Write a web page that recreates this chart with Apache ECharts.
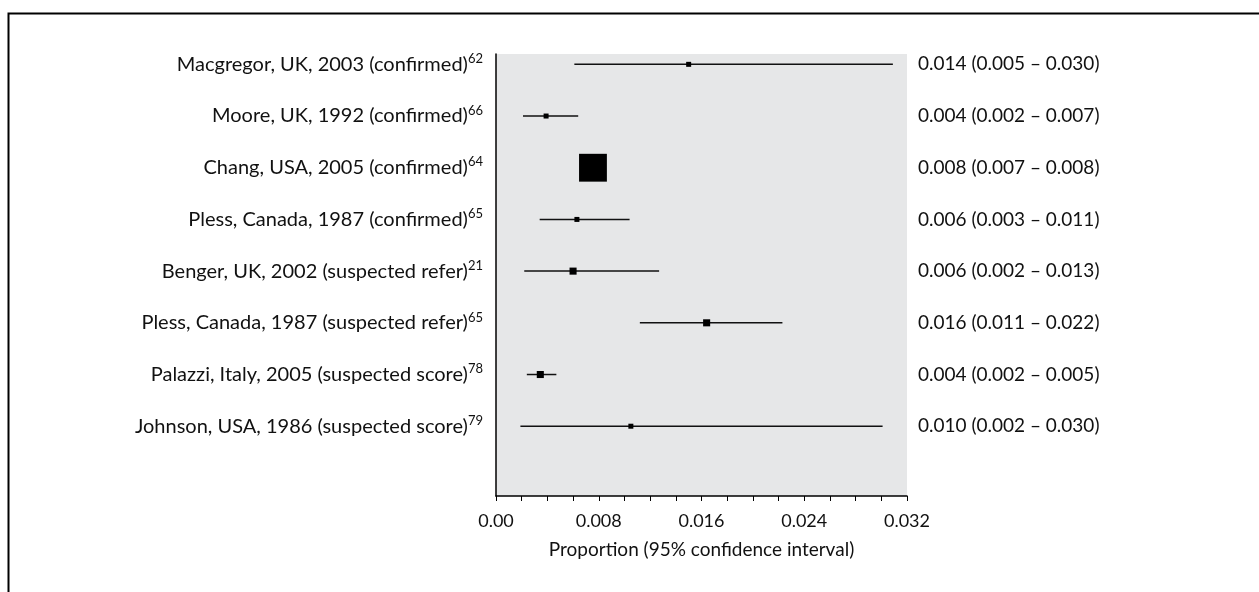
<!DOCTYPE html>
<html>
<head>
<meta charset="utf-8">
<title>Forest plot</title>
<script src="https://cdn.jsdelivr.net/npm/echarts@6/dist/echarts.min.js"></script>
<style>
  html, body { margin: 0; padding: 0; background: #fff; }
  #chart { width: 1259px; height: 592px; }
</style>
</head>
<body>
<div id="chart"></div>
<script>
// study labels and reference numbers (superscripts)
var studies = [
  'Macgregor, UK, 2003 (confirmed)',
  'Moore, UK, 1992 (confirmed)',
  'Chang, USA, 2005 (confirmed)',
  'Pless, Canada, 1987 (confirmed)',
  'Benger, UK, 2002 (suspected refer)',
  'Pless, Canada, 1987 (suspected refer)',
  'Palazzi, Italy, 2005 (suspected score)',
  'Johnson, USA, 1986 (suspected score)'
];
var refs = ['62', '66', '64', '65', '21', '65', '78', '79'];

// plotted values
var estimates = [0.0150, 0.0039, 0.00755, 0.0063, 0.0060, 0.0164, 0.00345, 0.0105];
var lower     = [0.0061, 0.0021, 0.0070, 0.0034, 0.0022, 0.0112, 0.0024, 0.0019];
var upper     = [0.0309, 0.0064, 0.0081, 0.0104, 0.0127, 0.0223, 0.0047, 0.0301];
// relative study weights (box area)
var weights   = [1, 1, 31, 1, 2, 2, 2, 1];

// reported values in right hand column
var repEst = [0.014, 0.004, 0.008, 0.006, 0.006, 0.016, 0.004, 0.010];
var repLo  = [0.005, 0.002, 0.007, 0.003, 0.002, 0.011, 0.002, 0.002];
var repHi  = [0.030, 0.007, 0.008, 0.011, 0.013, 0.022, 0.005, 0.030];

var FONT = 'Lato, "Open Sans", sans-serif';

var seriesData = [];
for (var i = 0; i < studies.length; i++) {
  seriesData.push([i + 1, estimates[i], lower[i], upper[i], weights[i], i]);
}

function ciLabel(i) {
  return repEst[i].toFixed(3) + ' (' + repLo[i].toFixed(3) + ' \u2013 ' + repHi[i].toFixed(3) + ')';
}

function renderItem(params, api) {
  var i = api.value(5);
  var y = api.value(0);
  var pEst = api.coord([api.value(1), y]);
  var pLo = api.coord([api.value(2), y]);
  var pHi = api.coord([api.value(3), y]);
  var left = api.coord([0, y]);
  var right = api.coord([0.032, y]);
  var s = 5 * Math.sqrt(api.value(4));
  return {
    type: 'group',
    children: [
      { type: 'line', shape: { x1: pLo[0], y1: pLo[1], x2: pHi[0], y2: pHi[1] },
        style: { stroke: '#111', lineWidth: 1.5 } },
      { type: 'rect', shape: { x: pEst[0] - s / 2, y: pEst[1] - s / 2, width: s, height: s },
        style: { fill: '#000' } },
      { type: 'text', x: left[0] - 13, y: left[1],
        style: {
          text: '{a|' + studies[i] + '}{s|' + refs[i] + '}',
          align: 'right', verticalAlign: 'middle',
          rich: {
            a: { fontFamily: FONT, fontSize: 20, fill: '#111', lineHeight: 24 },
            s: { fontFamily: FONT, fontSize: 13, fill: '#111', verticalAlign: 'top', lineHeight: 14 }
          }
        } },
      { type: 'text', x: right[0] + 11, y: right[1],
        style: { text: ciLabel(i), align: 'left', verticalAlign: 'middle',
          fontFamily: FONT, fontSize: 19, fill: '#111' } }
    ]
  };
}

var myChart = echarts.init(document.getElementById('chart'));
var option = {
  animation: false,
  backgroundColor: '#fff',
  graphic: [{
    type: 'rect', left: 6, top: 11,
    shape: { width: 1400, height: 800 },
    style: { fill: 'none', stroke: '#000', lineWidth: 2 }
  }],
  grid: {
    left: 496, right: 352, top: 54, bottom: 96,
    show: true, backgroundColor: '#e6e7e8', borderWidth: 0
  },
  xAxis: {
    type: 'value', min: 0, max: 0.032, interval: 0.002,
    name: 'Proportion (95% confidence interval)',
    nameLocation: 'middle', nameGap: 44,
    nameTextStyle: { fontFamily: FONT, fontSize: 19, color: '#111' },
    axisLine: { onZero: false, lineStyle: { color: '#000', width: 1.5 } },
    axisTick: { length: 5, lineStyle: { color: '#000', width: 1 } },
    axisLabel: {
      margin: 16, fontFamily: FONT, fontSize: 18, color: '#111',
      hideOverlap: false,
      formatter: function (v) {
        var k = Math.round(v / 0.002);
        if (k % 4 !== 0) return '';
        return k === 0 ? '0.00' : v.toFixed(3);
      }
    },
    splitLine: { show: false }
  },
  yAxis: {
    type: 'value', min: 0.8, max: 9.35, inverse: true,
    axisLine: { show: true, onZero: false, lineStyle: { color: '#000', width: 1.5 } },
    axisTick: { show: false },
    axisLabel: { show: false },
    splitLine: { show: false }
  },
  series: [{
    type: 'custom',
    renderItem: renderItem,
    clip: false,
    encode: { x: [1, 2, 3], y: 0 },
    data: seriesData
  }]
};
myChart.setOption(option);
</script>
</body>
</html>
